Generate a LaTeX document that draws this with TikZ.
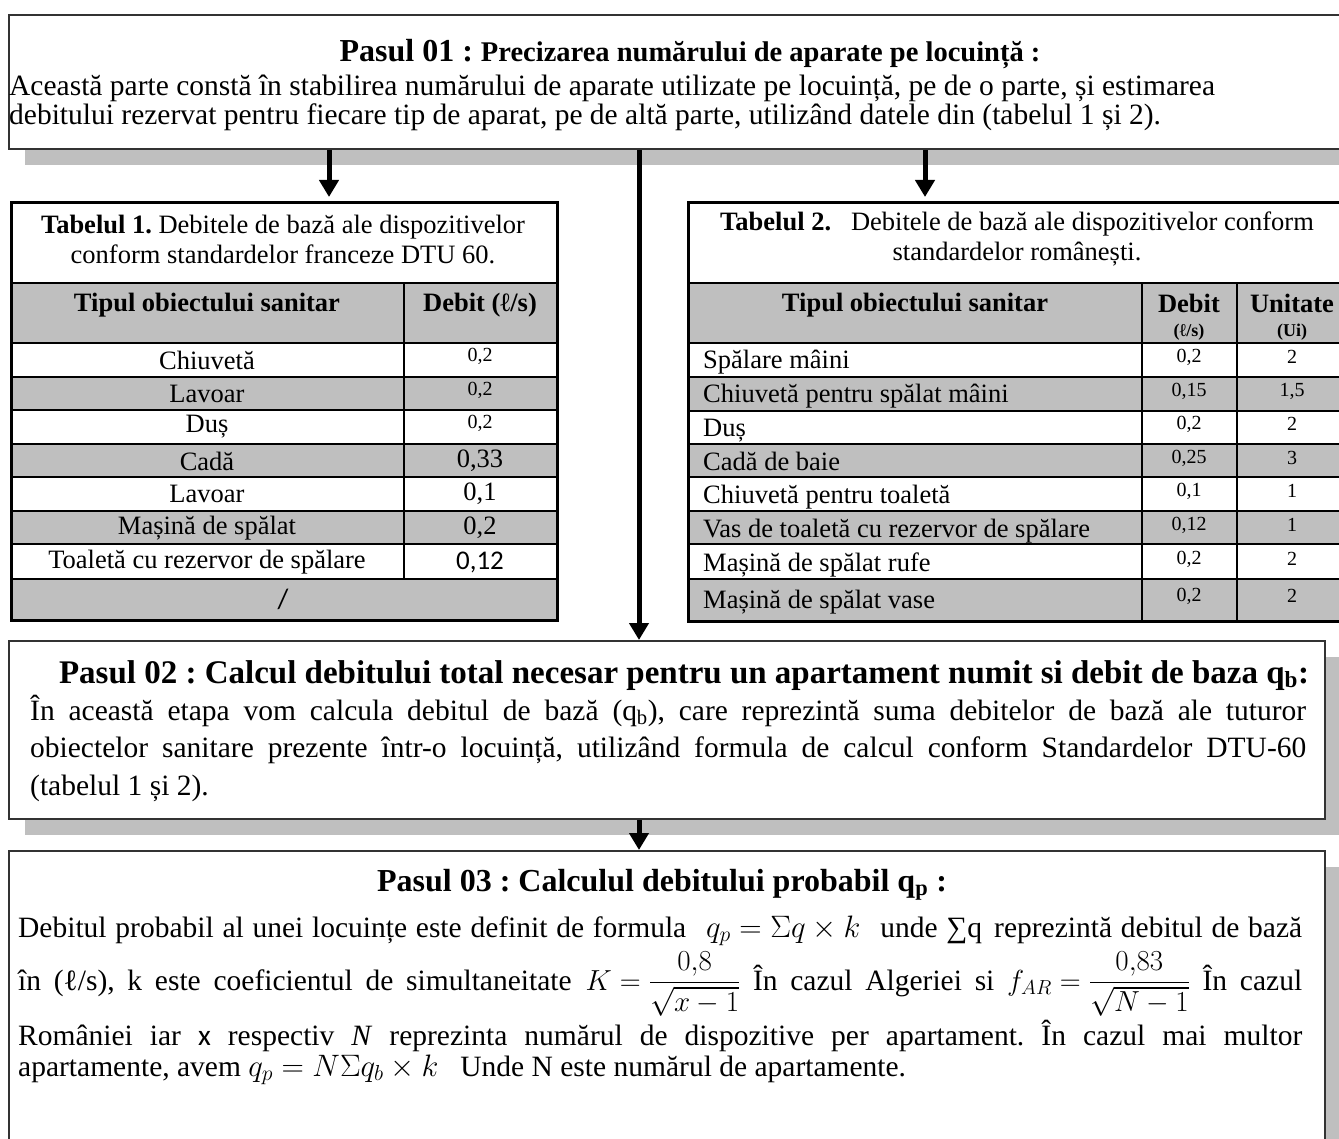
\RequirePackage{fix-cm}
\documentclass[tikz,border=0pt]{standalone}
\usepackage{amsmath}
\usepackage{fontspec}
\setmainfont{Liberation Serif}
\newfontfamily\calibri{Carlito}
\usetikzlibrary{arrows.meta}
\definecolor{gris}{RGB}{191,191,191}
\newcommand{\litru}{ℓ}
\newcommand{\fsz}[2]{\fontsize{#1}{#2}\selectfont}
\newcommand{\ecuatie}[1]{\mbox{\fsz{31}{34}$#1$}}
\newcommand{\fractie}[1]{\mbox{\fsz{29}{32}$#1$}}
\frenchspacing
\begin{document}
\begin{tikzpicture}[x=1pt,y=-1pt,
    box/.style={draw=black!80,line width=1.8pt,fill=white,anchor=north west,inner sep=0pt},
    umbra/.style={fill=gris},
    arr/.style={line width=5pt,-{Triangle[length=17pt,width=19pt]}},
    tab/.style={line width=3pt},
    lin/.style={line width=2.4pt},
    txt/.style={anchor=base west,inner sep=0pt},
    corp/.style={font=\fsz{29.5}{34}},
    celula/.style={font=\fsz{26.5}{30}},
    mic/.style={font=\fsz{20}{22}}]
  \useasboundingbox (0,0) rectangle (1339,1139);
  \clip (0,0) rectangle (1339,1139);

  \fill[umbra] (25,31) rectangle (1423,165);
  \node[box,minimum width=1398pt,minimum height=134pt] (P01) at (8,14) {};
  \node[anchor=base] (P01_t) at (690,62) {\bfseries\fsz{32}{36}Pasul 01 : \fsz{28.5}{34}Precizarea numărului de aparate pe locuință :};
  \node[txt,corp] (P01_a) at (9,96) {Această parte constă în stabilirea numărului de aparate utilizate pe locuință, pe de o parte, și estimarea};
  \node[txt,corp] (P01_b) at (9,125) {debitului rezervat pentru fiecare tip de aparat, pe de altă parte, utilizând datele din (tabelul 1 și 2).};

  \node[box,draw=none,fill=none,minimum width=545pt,minimum height=416pt] (T1) at (11,203) {};
  \node[box,draw=none,fill=none,minimum width=659pt,minimum height=417pt] (T2) at (688,203) {};
  \fill[umbra] (25,657) rectangle (1341,835);
  \node[box,minimum width=1316pt,minimum height=178pt] (P02) at (8,640) {};
  \fill[umbra] (25,867) rectangle (1341,1220);
  \node[box,minimum width=1316pt,minimum height=360pt] (P03) at (8,850) {};

  \coordinate (A1) at (329,0);
  \coordinate (A2) at (925,0);
  \coordinate (A3) at (639,0);
  \draw[arr,shorten >=6pt] (A1 |- P01.south) -- (A1 |- T1.north);
  \draw[arr,shorten >=6pt] (A2 |- P01.south) -- (A2 |- T2.north);
  \draw[arr] (A3 |- P01.south) -- (A3 |- P02.north);
  \draw[arr] (A3 |- P02.south) -- (A3 |- P03.north);

  % Tabelul 1
  \fill[gris] (11,283) rectangle (556,343);
  \fill[gris] (11,377) rectangle (556,410);
  \fill[gris] (11,444) rectangle (556,477);
  \fill[gris] (11,511) rectangle (556,544);
  \fill[gris] (11,579) rectangle (556,619);
  \draw[lin] (11,283) -- (556,283) (11,343) -- (556,343) (11,377) -- (556,377)
    (11,410) -- (556,410) (11,444) -- (556,444) (11,477) -- (556,477)
    (11,511) -- (556,511) (11,544) -- (556,544) (11,579) -- (556,579)
    (404,283) -- (404,579);
  \draw[tab] (T1.north west) rectangle (T1.south east);
  \node[align=center,celula] (T1_cap) at (283,239) {\textbf{Tabelul 1.} Debitele de bază ale dispozitivelor\\conform standardelor franceze DTU 60.};
  \node[celula] (T1_h1) at (207,305) {\bfseries Tipul obiectului sanitar};
  \node[celula] (T1_h2) at (480,305) {\bfseries Debit (\litru/s)};
  \node[celula] (T1_r1) at (207,360) {Chiuvetă};
  \node[celula] (T1_r2) at (207,394) {Lavoar};
  \node[celula] (T1_r3) at (207,427) {Duș};
  \node[celula] (T1_r4) at (207,461) {Cadă};
  \node[celula] (T1_r5) at (207,494) {Lavoar};
  \node[celula] (T1_r6) at (207,528) {Mașină de spălat};
  \node[celula] (T1_r7) at (207,562) {Toaletă cu rezervor de spălare};
  \node (T1_r8) at (283,599) {\calibri\fsz{28}{30}/};
  \node[mic] (T1_v1) at (480,356) {0,2};
  \node[mic] (T1_v2) at (480,390) {0,2};
  \node[mic] (T1_v3) at (480,423) {0,2};
  \node[celula] (T1_v4) at (480,461) {0,33};
  \node[celula] (T1_v5) at (480,494) {0,1};
  \node[celula] (T1_v6) at (480,528) {0,2};
  \node (T1_v7) at (480,562) {\calibri\fsz{27}{30}0,12};

  % Tabelul 2
  \fill[gris] (688,283) rectangle (1347,343);
  \fill[gris] (688,377) rectangle (1347,411);
  \fill[gris] (688,444) rectangle (1347,477);
  \fill[gris] (688,511) rectangle (1347,544);
  \fill[gris] (688,579) rectangle (1347,620);
  \draw[lin] (688,283) -- (1347,283) (688,343) -- (1347,343) (688,377) -- (1347,377)
    (688,411) -- (1347,411) (688,444) -- (1347,444) (688,477) -- (1347,477)
    (688,511) -- (1347,511) (688,544) -- (1347,544) (688,579) -- (1347,579)
    (1142,283) -- (1142,620) (1237,283) -- (1237,620);
  \draw[tab] (T2.north west) rectangle (T2.south east);
  \node[align=center,celula] (T2_cap) at (1017,239) {\textbf{Tabelul 2.}\ \ \ Debitele de bază ale dispozitivelor conform\\standardelor românești.};
  \node[celula] (T2_h1) at (915,305) {\bfseries Tipul obiectului sanitar};
  \node[celula] (T2_h2) at (1189,303) {\bfseries Debit};
  \node (T2_h2b) at (1189,332) {\fsz{18}{20}\bfseries (\litru/s)};
  \node[celula] (T2_h3) at (1292,303) {\bfseries Unitate};
  \node (T2_h3b) at (1292,332) {\fsz{18}{20}\bfseries (Ui)};
  \node[txt,celula] (T2_r1) at (703,369) {Spălare mâini};
  \node[txt,celula] (T2_r2) at (703,403) {Chiuvetă pentru spălat mâini};
  \node[txt,celula] (T2_r3) at (703,436) {Duș};
  \node[txt,celula] (T2_r4) at (703,470) {Cadă de baie};
  \node[txt,celula] (T2_r5) at (703,503) {Chiuvetă pentru toaletă};
  \node[txt,celula] (T2_r6) at (703,537) {Vas de toaletă cu rezervor de spălare};
  \node[txt,celula] (T2_r7) at (703,571) {Mașină de spălat rufe};
  \node[txt,celula] (T2_r8) at (703,608) {Mașină de spălat vase};
  \node[mic] (T2_d1) at (1189,357) {0,2};
  \node[mic] (T2_d2) at (1189,391) {0,15};
  \node[mic] (T2_d3) at (1189,424) {0,2};
  \node[mic] (T2_d4) at (1189,458) {0,25};
  \node[mic] (T2_d5) at (1189,491) {0,1};
  \node[mic] (T2_d6) at (1189,525) {0,12};
  \node[mic] (T2_d7) at (1189,559) {0,2};
  \node[mic] (T2_d8) at (1189,596) {0,2};
  \node[mic] (T2_u1) at (1292,357) {2};
  \node[mic] (T2_u2) at (1292,391) {1,5};
  \node[mic] (T2_u3) at (1292,424) {2};
  \node[mic] (T2_u4) at (1292,458) {3};
  \node[mic] (T2_u5) at (1292,491) {1};
  \node[mic] (T2_u6) at (1292,525) {1};
  \node[mic] (T2_u7) at (1292,559) {2};
  \node[mic] (T2_u8) at (1292,596) {2};

  % Pasul 02
  \node[anchor=base] (P02_t) at (684,683) {\bfseries\fsz{33}{36}Pasul 02 : Calcul debitului total necesar pentru un apartament numit si debit de baza q\textsubscript{b}:};
  \node[txt,corp] (P02_a) at (30,720) {\makebox[1276pt][s]{În această etapa vom calcula debitul de bază (q\textsubscript{b}), care reprezintă suma debitelor de bază ale tuturor}};
  \node[txt,corp] (P02_b) at (30,757) {\makebox[1276pt][s]{obiectelor sanitare prezente într-o locuință, utilizând formula de calcul conform Standardelor DTU-60}};
  \node[txt,corp] (P02_c) at (30,795) {(tabelul 1 și 2).};

  % Pasul 03
  \node[anchor=base] (P03_t) at (662,891) {\bfseries\fsz{32}{36}Pasul 03 : Calculul debitului probabil q\textsubscript{p} :};
  \node[txt,corp] (P03_a) at (18,937) {\makebox[1284pt][s]{Debitul probabil al unei locuințe este definit de formula\hspace{20pt}\ecuatie{q_p=\Sigma q\times k}\hspace{20pt}unde ∑q\hspace{12pt}reprezintă debitul de bază}};
  \node[txt,corp] (P03_b) at (18,990) {\makebox[1284pt][s]{în (\litru/s), k este coeficientul de simultaneitate\hspace{14pt}\fractie{K=\dfrac{0{,}8}{\sqrt{x-1}}} În cazul Algeriei si \fractie{f_{AR}=\dfrac{0{,}83}{\sqrt{N-1}}} În cazul}};
  \node[txt,corp] (P03_c) at (18,1045) {\makebox[1284pt][s]{României iar {\calibri x} respectiv \textit{N} reprezinta numărul de dispozitive per apartament. În cazul mai multor}};
  \node[txt,corp] (P03_d) at (18,1076) {apartamente, avem \ecuatie{q_p=N\Sigma q_b\times k}\hspace{22pt}Unde N este numărul de apartamente.};
\end{tikzpicture}
\end{document}
